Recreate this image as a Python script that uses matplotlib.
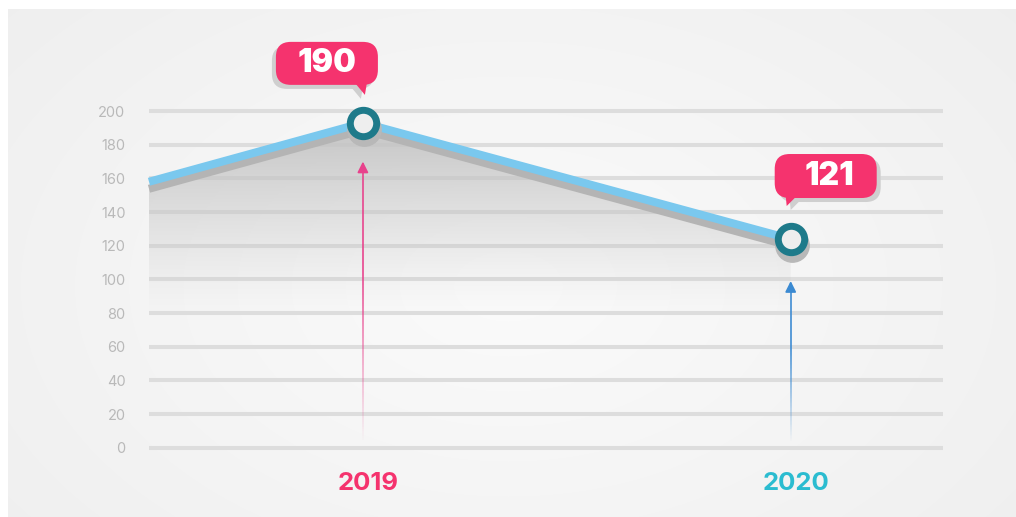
import matplotlib
matplotlib.use('Agg')
import matplotlib.pyplot as plt
import matplotlib.transforms as mtransforms
from matplotlib.patches import FancyBboxPatch, Polygon
from matplotlib.collections import LineCollection
import numpy as np

# dados
anos = [2018.5, 2019, 2020]
valores = [155, 190, 121]
anos_rotulo = [2019, 2020]
valores_rotulo = [190, 121]
cores_ano = ['#f5336e', '#2bbcd0']
cores_seta = ['#e8428c', '#3b8ad2']
topo_seta = [170, 99]
yticks = list(range(0, 201, 20))

W, H = 1016, 517
fig = plt.figure(figsize=(W / 100, H / 100), dpi=100)
fig.patch.set_facecolor('white')

# fundo com gradiente radial
bg = fig.add_axes([0, 0, 1, 1])
yy, xx = np.mgrid[0:H - 9, 0:W - 8]
d = np.sqrt(((xx - 500) / 650.0) ** 2 + ((yy - 230) / 420.0) ** 2)
g = (251 - 12 * np.clip(d, 0, 1.2)) / 255.0
img = np.dstack([g, g, g])
bg.imshow(img, extent=[8, W, 0, H - 9], origin='lower', aspect='auto', zorder=0)
bg.set_xlim(0, W)
bg.set_ylim(0, H)
bg.axis('off')

# eixo principal
ax = fig.add_axes([149 / W, 0.1178, (943 - 149) / W, 0.6837])
ax.patch.set_alpha(0)
ax.set_xlim(2018.5, 2020.356)
ax.set_ylim(-5, 205)
for s in ax.spines.values():
    s.set_visible(False)
ax.set_yticks(yticks)
ax.set_xticks([])
ax.tick_params(axis='y', length=0, pad=17, labelcolor='#b9b9b9', labelsize=10.5)
for t in ax.get_yticklabels():
    t.set_fontfamily('Inter')
ax.grid(axis='y', color='#dddddd', linewidth=2.9)
ax.set_axisbelow(True)

# preenchimento com gradiente
grad_v = np.linspace(0, 200, 300)
alpha = np.clip((grad_v - 80) / 110.0, 0, 1) ** 1.2 * 0.95
grad = np.zeros((300, 2, 4))
grad[..., :3] = 0.77
grad[..., 3] = alpha[:, None]
im = ax.imshow(grad, extent=[2018.5, 2020.356, 0, 200], origin='lower', aspect='auto', zorder=2)
poly = Polygon([(anos[0], 0)] + list(zip(anos, valores)) + [(anos[-1], 0)],
               closed=True, transform=ax.transData, facecolor='none', edgecolor='none')
ax.add_patch(poly)
im.set_clip_path(poly)

# linhas
desl_azul = ax.transData + mtransforms.ScaledTranslation(0, 0.05, fig.dpi_scale_trans)
desl_cinza = ax.transData + mtransforms.ScaledTranslation(0, -0.02, fig.dpi_scale_trans)
ax.plot(anos, valores, color='#b4b4b4', lw=5.8, transform=desl_cinza, zorder=3,
        solid_capstyle='butt', clip_on=False)
ax.plot(anos, valores, color='#7ac8ee', lw=5.8, transform=desl_azul, zorder=4,
        solid_capstyle='butt', clip_on=False)

# setas verticais
for ano, topo, cor in zip(anos_rotulo, topo_seta, cores_seta):
    ys = np.linspace(3, topo - 6, 120)
    segs = [[(ano, ys[i]), (ano, ys[i + 1])] for i in range(len(ys) - 1)]
    rgba = np.array([matplotlib.colors.to_rgba(cor)] * len(segs))
    rgba[:, 3] = np.clip(np.linspace(0, 1.6, len(segs)), 0, 1) * 0.9
    ax.add_collection(LineCollection(segs, colors=rgba, linewidths=1.3, zorder=2.5))
    ax.annotate('', xy=(ano, topo), xytext=(ano, topo - 6),
                arrowprops=dict(arrowstyle='-|>', color=cor, lw=1.3, mutation_scale=16,
                                shrinkA=0, shrinkB=0), zorder=2.5)

# marcadores
sombra_m = ax.transData + mtransforms.ScaledTranslation(0.01, -0.01, fig.dpi_scale_trans)
ax.plot(anos_rotulo, valores_rotulo, 'o', ms=24, color='#b8b8b8', transform=sombra_m,
        zorder=5, clip_on=False)
ax.plot(anos_rotulo, valores_rotulo, 'o', ms=19, mew=5, mfc='#eeeeee', mec='#1e7a8a',
        transform=desl_azul, zorder=6, clip_on=False)

# rótulos do eixo x
for ano, cor in zip(anos_rotulo, cores_ano):
    ax.text(ano + 0.012, -0.078, str(ano), transform=ax.get_xaxis_transform(),
            ha='center', va='center', color=cor, fontsize=18.5, fontweight='bold',
            fontfamily='Inter')

# balões
ov = fig.add_axes([0, 0, 1, 1], zorder=10)
ov.set_xlim(0, W)
ov.set_ylim(0, H)
ov.axis('off')
ov.patch.set_alpha(0)

caixas = [(-87, 15, 38, 81), (-16, 86, 41, 85)]
caudas = [(-8, 4, 2, 28), (-5, 6, -4, 33)]
sombras = [(-4, -4), (4, -4)]
desl_txt = [0, 4]
for ano, val, (x0, x1, y0, y1), (c0, c1, cx, cy), (sx, sy), dt in zip(
        anos_rotulo, valores_rotulo, caixas, caudas, sombras, desl_txt):
    px, py = desl_azul.transform((ano, val))
    for cor, ox, oy, z in [('#cfcfcf', sx, sy, 1), ('#f5336e', 0, 0, 2)]:
        ov.add_patch(FancyBboxPatch((px + x0 + ox + 15, py + y0 + oy + 15),
                                    (x1 - x0) - 30, (y1 - y0) - 30,
                                    boxstyle='round,pad=15', fc=cor, ec='none', zorder=z))
        pts = [(px + c0 + ox, py + y0 + oy + 2),
               (px + c1 + ox, py + y0 + oy + 2),
               (px + cx + ox, py + cy + oy)]
        ov.add_patch(Polygon(pts, closed=True, fc=cor, ec='none', zorder=z))
    ov.text(px + (x0 + x1) / 2 + dt, py + (y0 + y1) / 2, str(val), ha='center',
            va='center', color='white', fontsize=23, fontweight='black',
            fontfamily='Inter', zorder=3)

fig.savefig('out.png', dpi=100)
